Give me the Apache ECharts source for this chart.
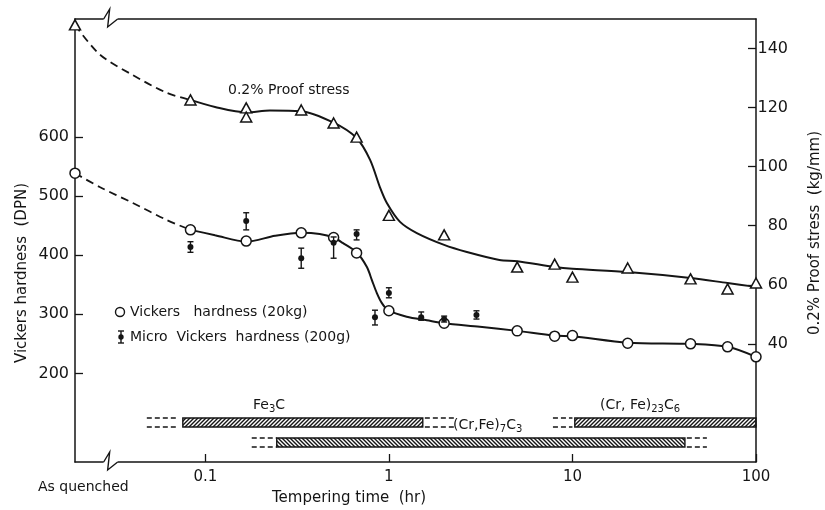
<!DOCTYPE html>
<html><head><meta charset="utf-8">
<script src="https://cdn.jsdelivr.net/npm/echarts@6/dist/echarts.min.js"></script>
<style>html,body{margin:0;padding:0;background:#fff}#c{width:825px;height:510px}</style>
</head><body><div id="c"></div>
<script>
// ---- data ----
const X_MIN = 0.0195, X_MAX = 100;           // "As quenched" sits at the left edge
const xTickValues = [0.1, 1, 10, 100];
const hvTickValues = [200, 300, 400, 500, 600];
const psTickValues = [40, 60, 80, 100, 120, 140];

const asQuenchedTime = 0.0195;
const proofAsQuenched = 148;
const hvAsQuenched = 539;

const proofTimes  = [0.083, 0.167, 0.167, 0.333, 0.5, 0.667, 1, 2, 5, 8, 10, 20, 44, 70, 100];
const proofValues = [122.6, 119.9, 116.8, 119.2, 114.8, 110, 83.5, 76.9, 66.0, 67.0, 62.6, 65.7, 62.0, 58.6, 60.6];

const hvTimes  = [0.083, 0.167, 0.333, 0.5, 0.667, 1, 2, 5, 8, 10, 20, 44, 70, 100];
const hvValues = [443, 424, 438, 430, 404, 306, 285, 272, 263, 264, 251, 250, 245, 228];

const microTimes  = [0.083, 0.167, 0.333, 0.5, 0.667, 0.84, 1, 1.5, 2, 3];
const microValues = [414, 458, 395, 421, 436, 295, 336, 295, 292, 299];
const microLow    = [405, 443, 378, 395, 426, 282, 328, 290, 287, 292];
const microHigh   = [423, 472, 412, 431, 443, 307, 345, 304, 297, 306];

const proofDashTimes  = [0.0195, 0.0266, 0.0403, 0.0617, 0.083];
const proofDashValues = [148, 138, 131, 125, 122.6];
const proofCurveTimes  = [0.083, 0.113, 0.167, 0.225, 0.333, 0.5, 0.667, 0.79, 0.893, 0.975, 1.15, 1.42, 2, 2.66, 4, 5, 8, 10, 20, 44, 70, 100];
const proofCurveValues = [122.6, 120.2, 118.4, 119.0, 118.8, 114.9, 109.7, 102.3, 93.1, 87.7, 81.3, 77.5, 73.5, 71.1, 68.4, 68, 66, 65.4, 64.3, 62.3, 60.6, 59.3];

const hvDashTimes  = [0.0195, 0.0266, 0.0403, 0.0617, 0.083];
const hvDashValues = [539, 515.5, 488.5, 459.7, 443];
const hvCurveTimes  = [0.083, 0.113, 0.167, 0.24, 0.333, 0.42, 0.5, 0.56, 0.667, 0.759, 0.808, 0.86, 0.916, 0.99, 1.25, 1.61, 2, 3.13, 5, 8, 10, 20, 44, 70, 100];
const hvCurveValues = [443, 434, 423, 433, 438, 436, 430, 421, 405, 380, 358, 336, 319, 307, 296, 290, 285, 279, 272, 264, 263, 252, 250, 245, 228];

// carbide existence ranges (time, hr) on the hardness scale
const phaseStart  = [0.0754, 10.3, 0.245];
const phaseEnd    = [1.53, 100, 41];
const phaseTop    = [124.5, 124.5, 90.6];
const phaseBottom = [109.3, 109.3, 75.4];
const phaseHatch  = [1, 1, -1];
const dashStart  = [0.048, 1.57, 7.83, 0.179, 42];
const dashEnd    = [0.070, 2.29, 10, 0.245, 54];
const dashTop    = [124.5, 124.5, 124.5, 90.6, 90.6];
const dashBottom = [109.3, 109.3, 109.3, 75.4, 75.4];
const breakTime = 0.0305;

// ---- helpers ----
const zip = (a, b) => a.map((v, i) => [v, b[i]]);
const INK = '#151515';
const FONT = 'DejaVu Sans';

function makeHatch(dir) {
  const s = 4, c = document.createElement('canvas');
  c.width = s; c.height = s;
  const g = c.getContext('2d');
  g.strokeStyle = INK; g.lineWidth = 1.4; g.beginPath();
  if (dir > 0) {
    g.moveTo(0, s); g.lineTo(s, 0);
    g.moveTo(-1, 1); g.lineTo(1, -1);
    g.moveTo(s - 1, s + 1); g.lineTo(s + 1, s - 1);
  } else {
    g.moveTo(0, 0); g.lineTo(s, s);
    g.moveTo(-1, s - 1); g.lineTo(1, s + 1);
    g.moveTo(s - 1, -1); g.lineTo(s + 1, 1);
  }
  g.stroke();
  return c;
}
const hatchUp = makeHatch(1), hatchDown = makeHatch(-1);

const chart = echarts.init(document.getElementById('c'), null, {renderer: 'canvas'});

const lineBase = {type: 'line', showSymbol: false, symbol: 'none', clip: false, silent: true};

const option = {
  backgroundColor: '#fff',
  animation: false,
  grid: {left: 75, right: 69, top: 19, bottom: 48},
  xAxis: [{
    type: 'log', logBase: 10, min: X_MIN, max: X_MAX,
    axisLine: {show: true, lineStyle: {color: INK, width: 1.5}},
    axisTick: {show: true, inside: true, length: 8, customValues: xTickValues, lineStyle: {color: INK, width: 1.3}},
    axisLabel: {customValues: xTickValues, margin: 8, color: INK, fontFamily: FONT, fontSize: 15,
      formatter: v => (v < 0.5 ? '0.1' : String(Math.round(v)))},
    splitLine: {show: false}, minorTick: {show: false}
  }, {
    type: 'log', logBase: 10, min: X_MIN, max: X_MAX, position: 'top',
    axisLine: {show: true, lineStyle: {color: INK, width: 1.5}},
    axisTick: {show: false}, axisLabel: {show: false}, splitLine: {show: false}
  }],
  yAxis: [{
    type: 'value', min: 50, max: 800, position: 'left',
    axisLine: {show: true, lineStyle: {color: INK, width: 1.5}},
    axisTick: {show: true, inside: true, length: 8, customValues: hvTickValues, lineStyle: {color: INK, width: 1.3}},
    axisLabel: {customValues: hvTickValues, margin: 6, color: INK, fontFamily: FONT, fontSize: 16},
    splitLine: {show: false}
  }, {
    type: 'value', min: 0, max: 150, position: 'right',
    axisLine: {show: true, lineStyle: {color: INK, width: 1.5}},
    axisTick: {show: true, inside: true, length: 8, customValues: psTickValues, lineStyle: {color: INK, width: 1.3}},
    axisLabel: {customValues: psTickValues, margin: 32, align: 'right', color: INK, fontFamily: FONT, fontSize: 16},
    splitLine: {show: false}
  }],
  series: [
    // carbide bars
    {
      type: 'custom', name: 'phases', clip: false, silent: true, z: 1,
      data: phaseStart.map((s, i) => [s, phaseEnd[i], phaseTop[i], phaseBottom[i], phaseHatch[i]]),
      encode: {x: [0, 1], y: [2, 3]},
      renderItem: (params, api) => {
        const p0 = api.coord([api.value(0), api.value(2)]);
        const p1 = api.coord([api.value(1), api.value(3)]);
        return {
          type: 'rect',
          shape: {x: p0[0], y: p0[1], width: p1[0] - p0[0], height: p1[1] - p0[1]},
          style: {fill: {image: api.value(4) > 0 ? hatchUp : hatchDown, repeat: 'repeat'}, stroke: INK, lineWidth: 1.4}
        };
      }
    },
    {
      type: 'custom', name: 'phaseDashes', clip: false, silent: true, z: 1,
      data: dashStart.map((s, i) => [s, dashEnd[i], dashTop[i], dashBottom[i]]),
      encode: {x: [0, 1], y: [2, 3]},
      renderItem: (params, api) => {
        const p0 = api.coord([api.value(0), api.value(2)]);
        const p1 = api.coord([api.value(1), api.value(3)]);
        const st = {stroke: INK, lineWidth: 1.4, lineDash: [5, 3]};
        return {type: 'group', children: [
          {type: 'line', shape: {x1: p0[0], y1: p0[1], x2: p1[0], y2: p0[1]}, style: st},
          {type: 'line', shape: {x1: p0[0], y1: p1[1], x2: p1[0], y2: p1[1]}, style: st}
        ]};
      }
    },
    // axis break marks
    {
      type: 'custom', name: 'break', clip: false, silent: true, z: 5,
      data: [[breakTime, 50]],
      renderItem: (params, api) => {
        const t = api.coord([api.value(0), 800]);
        const b = api.coord([api.value(0), 50]);
        const cx = t[0];
        const zig = y => [[cx - 7, y], [cx - 1, y - 10], [cx - 3, y + 8], [cx + 7, y]];
        const st = {stroke: INK, lineWidth: 1.4, fill: null};
        return {type: 'group', children: [
          {type: 'rect', shape: {x: cx - 7, y: t[1] - 2, width: 14, height: 4}, style: {fill: '#fff'}},
          {type: 'rect', shape: {x: cx - 7, y: b[1] - 2, width: 14, height: 4}, style: {fill: '#fff'}},
          {type: 'polyline', shape: {points: zig(t[1])}, style: st},
          {type: 'polyline', shape: {points: zig(b[1])}, style: st}
        ]};
      }
    },
    // proof stress
    Object.assign({}, lineBase, {name: 'proofDash', yAxisIndex: 1, smooth: 0.3,
      data: zip(proofDashTimes, proofDashValues), lineStyle: {color: INK, width: 1.8, type: [8, 5]}}),
    Object.assign({}, lineBase, {name: 'proofCurve', yAxisIndex: 1, smooth: 0.3,
      data: zip(proofCurveTimes, proofCurveValues), lineStyle: {color: INK, width: 2}}),
    {
      type: 'scatter', name: '0.2% Proof stress', yAxisIndex: 1, clip: false, z: 4,
      symbol: 'triangle', symbolSize: [11, 10],
      itemStyle: {color: '#fff', borderColor: INK, borderWidth: 1.5, opacity: 1},
      data: [[asQuenchedTime, proofAsQuenched]].concat(zip(proofTimes, proofValues))
    },
    // Vickers hardness
    Object.assign({}, lineBase, {name: 'hvDash', yAxisIndex: 0, smooth: 0.3,
      data: zip(hvDashTimes, hvDashValues), lineStyle: {color: INK, width: 1.8, type: [8, 5]}}),
    Object.assign({}, lineBase, {name: 'hvCurve', yAxisIndex: 0, smooth: 0.3,
      data: zip(hvCurveTimes, hvCurveValues), lineStyle: {color: INK, width: 2}}),
    {
      type: 'scatter', name: 'Vickers hardness (20kg)', yAxisIndex: 0, clip: false, z: 4,
      symbol: 'circle', symbolSize: 10,
      itemStyle: {color: '#fff', borderColor: INK, borderWidth: 1.5, opacity: 1},
      data: [[asQuenchedTime, hvAsQuenched]].concat(zip(hvTimes, hvValues))
    },
    // micro Vickers error bars + dots
    {
      type: 'custom', name: 'microBars', clip: false, silent: true, z: 5,
      data: microTimes.map((t, i) => [t, microLow[i], microHigh[i]]),
      encode: {x: 0, y: [1, 2]},
      renderItem: (params, api) => {
        const lo = api.coord([api.value(0), api.value(1)]);
        const hi = api.coord([api.value(0), api.value(2)]);
        const st = {stroke: INK, lineWidth: 1.4};
        return {type: 'group', children: [
          {type: 'line', shape: {x1: lo[0], y1: lo[1], x2: hi[0], y2: hi[1]}, style: st},
          {type: 'line', shape: {x1: lo[0] - 3, y1: lo[1], x2: lo[0] + 3, y2: lo[1]}, style: st},
          {type: 'line', shape: {x1: hi[0] - 3, y1: hi[1], x2: hi[0] + 3, y2: hi[1]}, style: st}
        ]};
      }
    },
    {
      type: 'scatter', name: 'Micro Vickers hardness (200g)', yAxisIndex: 0, clip: false, z: 6,
      symbol: 'circle', symbolSize: 6,
      itemStyle: {color: INK, opacity: 1},
      data: zip(microTimes, microValues)
    }
  ],
  graphic: [
    {type: 'text', x: 228, y: 90, style: {text: '0.2% Proof stress', fill: INK, font: '14px ' + FONT, verticalAlign: 'middle', textVerticalAlign: 'middle'}},
    // legend
    {type: 'circle', shape: {cx: 120, cy: 312, r: 4.5}, style: {fill: '#fff', stroke: INK, lineWidth: 1.4}},
    {type: 'text', x: 130, y: 312, style: {text: 'Vickers   hardness (20kg)', fill: INK, font: '14px ' + FONT, verticalAlign: 'middle', textVerticalAlign: 'middle'}},
    {type: 'line', shape: {x1: 121, y1: 331, x2: 121, y2: 343}, style: {stroke: INK, lineWidth: 1.4}},
    {type: 'line', shape: {x1: 118, y1: 331, x2: 124, y2: 331}, style: {stroke: INK, lineWidth: 1.4}},
    {type: 'line', shape: {x1: 118, y1: 343, x2: 124, y2: 343}, style: {stroke: INK, lineWidth: 1.4}},
    {type: 'circle', shape: {cx: 121, cy: 337, r: 2.7}, style: {fill: INK}},
    {type: 'text', x: 130, y: 337, style: {text: 'Micro  Vickers  hardness (200g)', fill: INK, font: '14px ' + FONT, verticalAlign: 'middle', textVerticalAlign: 'middle'}},
    // carbide labels
    {type: 'text', x: 253, y: 405, style: {text: 'Fe{s|3}C', fill: INK, font: '14px ' + FONT, lineHeight: 18, verticalAlign: 'middle', textVerticalAlign: 'middle',
      rich: {s: {fontSize: 10, fontFamily: FONT, verticalAlign: 'bottom', lineHeight: 11}}}},
    {type: 'text', x: 453, y: 425, style: {text: '(Cr,Fe){s|7}C{s|3}', fill: INK, font: '14px ' + FONT, lineHeight: 18, verticalAlign: 'middle', textVerticalAlign: 'middle',
      rich: {s: {fontSize: 10, fontFamily: FONT, verticalAlign: 'bottom', lineHeight: 11}}}},
    {type: 'text', x: 600, y: 405, style: {text: '(Cr, Fe){s|23}C{s|6}', fill: INK, font: '14px ' + FONT, lineHeight: 18, verticalAlign: 'middle', textVerticalAlign: 'middle',
      rich: {s: {fontSize: 10, fontFamily: FONT, verticalAlign: 'bottom', lineHeight: 11}}}},
    // axis titles
    {type: 'text', x: 38, y: 487, style: {text: 'As quenched', fill: INK, font: '14px ' + FONT, verticalAlign: 'middle', textVerticalAlign: 'middle'}},
    {type: 'text', x: 272, y: 498, style: {text: 'Tempering time  (hr)', fill: INK, font: '15px ' + FONT, verticalAlign: 'middle', textVerticalAlign: 'middle'}},
    {type: 'text', x: 22, y: 273, rotation: Math.PI / 2, style: {text: 'Vickers hardness  (DPN)', fill: INK, font: '15px ' + FONT, align: 'center', textAlign: 'center', verticalAlign: 'middle', textVerticalAlign: 'middle'}},
    {type: 'text', x: 815, y: 233, rotation: Math.PI / 2, style: {text: '0.2% Proof stress  (kg/mm)', fill: INK, font: '15px ' + FONT, align: 'center', textAlign: 'center', verticalAlign: 'middle', textVerticalAlign: 'middle'}}
  ]
};
chart.setOption(option);
</script>
</body></html>
